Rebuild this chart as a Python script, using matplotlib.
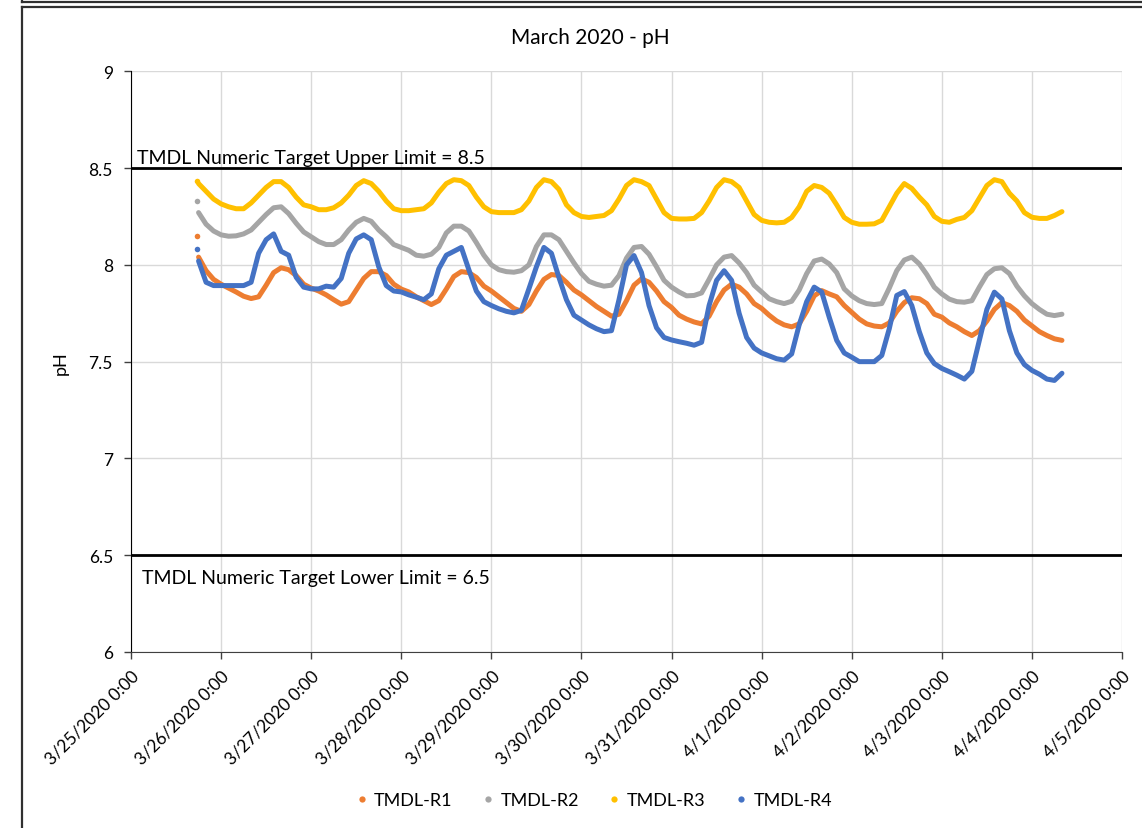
import numpy as np
import pandas as pd
import matplotlib
matplotlib.use("Agg")
import matplotlib.pyplot as plt
import matplotlib.dates as mdates
from matplotlib.lines import Line2D
from matplotlib.ticker import FuncFormatter, MultipleLocator

plt.rcParams['font.family'] = ['Lato', 'DejaVu Sans']

# readings every 2 hours, 3/25 18:00 -> 4/4 08:00
times = pd.date_range('2020-03-25 18:00', '2020-04-04 08:00', freq='2h')
first_time = pd.Timestamp('2020-03-25 17:30')

series_names = ['TMDL-R1', 'TMDL-R2', 'TMDL-R3', 'TMDL-R4']
colors = ['#ED7D31', '#A5A5A5', '#FFC000', '#4472C4']

# first reading of each logger (3/25 17:30)
first_vals = [8.15, 8.33, 8.435, 8.08]

r1 = [8.04, 7.97, 7.925,
      7.90, 7.88, 7.86, 7.838, 7.826, 7.835, 7.895, 7.96, 7.985, 7.975, 7.945, 7.90,
      7.88, 7.865, 7.845, 7.82, 7.797, 7.81, 7.87, 7.93, 7.965, 7.965, 7.945, 7.90,
      7.875, 7.86, 7.835, 7.815, 7.795, 7.815, 7.875, 7.94, 7.965, 7.96, 7.935, 7.89,
      7.865, 7.835, 7.805, 7.775, 7.76, 7.795, 7.865, 7.925, 7.95, 7.945, 7.91, 7.87,
      7.845, 7.815, 7.785, 7.76, 7.735, 7.745, 7.815, 7.895, 7.928, 7.91, 7.865, 7.81,
      7.78, 7.74, 7.72, 7.705, 7.695, 7.735, 7.81, 7.87, 7.90, 7.885, 7.85, 7.80,
      7.775, 7.74, 7.71, 7.69, 7.68, 7.695, 7.76, 7.84, 7.867, 7.85, 7.835, 7.79,
      7.755, 7.72, 7.695, 7.684, 7.68, 7.70, 7.76, 7.805, 7.83, 7.825, 7.80, 7.745,
      7.73, 7.70, 7.68, 7.655, 7.635, 7.66, 7.71, 7.77, 7.805, 7.79, 7.76, 7.715,
      7.685, 7.655, 7.635, 7.618, 7.61]

r2 = [8.27, 8.21, 8.175,
      8.155, 8.148, 8.15, 8.16, 8.18, 8.22, 8.26, 8.295, 8.30, 8.265, 8.215, 8.17,
      8.145, 8.12, 8.105, 8.105, 8.13, 8.18, 8.22, 8.24, 8.225, 8.18, 8.145, 8.105,
      8.09, 8.075, 8.05, 8.045, 8.055, 8.09, 8.165, 8.20, 8.20, 8.175, 8.115, 8.05,
      8.00, 7.975, 7.965, 7.962, 7.97, 8.00, 8.095, 8.155, 8.155, 8.13, 8.07, 8.01,
      7.955, 7.915, 7.90, 7.89, 7.895, 7.945, 8.035, 8.09, 8.095, 8.055, 7.99, 7.92,
      7.885, 7.86, 7.84, 7.842, 7.855, 7.925, 8.00, 8.04, 8.048, 8.01, 7.96, 7.895,
      7.86, 7.825, 7.81, 7.80, 7.812, 7.87, 7.955, 8.02, 8.03, 8.005, 7.96, 7.876,
      7.84, 7.815, 7.80, 7.795, 7.80, 7.88, 7.97, 8.025, 8.04, 8.005, 7.95, 7.885,
      7.85, 7.823, 7.81, 7.807, 7.815, 7.885, 7.95, 7.98, 7.985, 7.955, 7.89, 7.84,
      7.80, 7.77, 7.745, 7.738, 7.745]

r3 = [8.42, 8.38, 8.34,
      8.315, 8.30, 8.29, 8.29, 8.32, 8.36, 8.40, 8.43, 8.43, 8.40, 8.35, 8.31,
      8.30, 8.285, 8.285, 8.295, 8.32, 8.36, 8.41, 8.435, 8.42, 8.38, 8.33, 8.29,
      8.28, 8.28, 8.285, 8.29, 8.32, 8.375, 8.42, 8.44, 8.435, 8.41, 8.35, 8.30,
      8.275, 8.27, 8.27, 8.27, 8.285, 8.33, 8.40, 8.44, 8.43, 8.39, 8.31, 8.27,
      8.25, 8.245, 8.25, 8.255, 8.28, 8.34, 8.41, 8.44, 8.43, 8.41, 8.34, 8.27,
      8.24, 8.237, 8.237, 8.24, 8.27, 8.33, 8.40, 8.44, 8.43, 8.40, 8.33, 8.26,
      8.23, 8.22, 8.217, 8.22, 8.245, 8.30, 8.38, 8.41, 8.40, 8.37, 8.31, 8.245,
      8.22, 8.21, 8.21, 8.212, 8.23, 8.30, 8.37, 8.42, 8.395, 8.35, 8.31, 8.25,
      8.225, 8.22, 8.235, 8.245, 8.28, 8.345, 8.41, 8.44, 8.43, 8.37, 8.33, 8.27,
      8.246, 8.24, 8.24, 8.255, 8.275]

r4 = [8.02, 7.91, 7.893,
      7.893, 7.893, 7.893, 7.893, 7.91, 8.06, 8.13, 8.16, 8.07, 8.05, 7.936, 7.885,
      7.876, 7.876, 7.89, 7.885, 7.93, 8.06, 8.134, 8.155, 8.13, 7.99, 7.893, 7.865,
      7.86, 7.845, 7.833, 7.82, 7.85, 7.98, 8.05, 8.07, 8.09, 7.975, 7.865, 7.81,
      7.79, 7.773, 7.76, 7.752, 7.765, 7.876, 7.99, 8.09, 8.06, 7.935, 7.82, 7.74,
      7.715, 7.69, 7.67, 7.655, 7.66, 7.82, 8.00, 8.048, 7.96, 7.79, 7.675, 7.625,
      7.612, 7.603, 7.595, 7.585, 7.60, 7.79, 7.92, 7.97, 7.92, 7.75, 7.625, 7.57,
      7.545, 7.53, 7.515, 7.508, 7.54, 7.69, 7.81, 7.885, 7.86, 7.73, 7.61, 7.545,
      7.523, 7.50, 7.50, 7.50, 7.532, 7.67, 7.842, 7.862, 7.79, 7.655, 7.545, 7.49,
      7.465, 7.448, 7.43, 7.41, 7.45, 7.61, 7.77, 7.859, 7.824, 7.66, 7.545, 7.485,
      7.455, 7.435, 7.41, 7.403, 7.44]

target_upper = 8.5
target_lower = 6.5

fig = plt.figure(figsize=(11.42, 8.29), dpi=100)
ax = fig.add_axes([131 / 1142, 1 - 653 / 829, 991 / 1142, 580.7 / 829])

for name, vals, c, v0 in zip(series_names, [r1, r2, r3, r4], colors, first_vals):
    ax.plot(times, vals, color=c, lw=3.6, solid_capstyle='round',
            solid_joinstyle='round', zorder=3)
    ax.plot([first_time], [v0], 'o', color=c, ms=4, mec='none', zorder=3)
    ax.plot([], [], 'o', color=c, ms=4.5, mec='none', label=name)

ax.axhline(target_upper, color='black', lw=2, zorder=4)
ax.axhline(target_lower, color='black', lw=2, zorder=4)
ax.text(0.006, 0.852, 'TMDL Numeric Target Upper Limit = 8.5', transform=ax.transAxes,
        fontsize=14, va='center', ha='left')
ax.text(0.011, 0.129, 'TMDL Numeric Target Lower Limit = 6.5', transform=ax.transAxes,
        fontsize=14, va='center', ha='left')

ax.set_xlim(pd.Timestamp('2020-03-25'), pd.Timestamp('2020-04-05'))
ax.set_ylim(6, 9)
ax.yaxis.set_major_locator(MultipleLocator(0.5))
ax.yaxis.set_major_formatter(FuncFormatter(lambda v, p: '%g' % v))
ax.xaxis.set_major_locator(mdates.DayLocator())


def fmt_date(x, pos):
    d = mdates.num2date(x)
    return '%d/%d/%d %d:%02d' % (d.month, d.day, d.year, d.hour, d.minute)


ax.xaxis.set_major_formatter(FuncFormatter(fmt_date))
for lab in ax.get_xticklabels():
    lab.set_rotation(45)
    lab.set_ha('right')
    lab.set_rotation_mode('anchor')
ax.tick_params(axis='both', labelsize=12.5, length=5, width=1, color='#404040')
ax.tick_params(axis='x', pad=6)
ax.tick_params(axis='y', pad=8)

ax.grid(True, color='#d9d9d9', lw=1)
ax.set_axisbelow(True)
for s in ['top', 'right']:
    ax.spines[s].set_visible(False)
ax.spines['left'].set_color('black')
ax.spines['bottom'].set_color('#404040')

ax.set_ylabel('pH', fontsize=13, labelpad=14)
fig.text(0.5166, 1 - 38 / 829, 'March 2020 - pH', ha='center', va='center', fontsize=15)

fig.legend(loc='center', bbox_to_anchor=(0.519, 1 - 801 / 829), ncol=4, frameon=False,
           fontsize=13, handletextpad=0.25, columnspacing=1.5, handlelength=0.9)


# chart borders
def px_line(x0, y0, x1, y1, lw=1.6, c='#303030'):
    fig.add_artist(Line2D([x0 / 1142, x1 / 1142], [1 - y0 / 829, 1 - y1 / 829],
                          transform=fig.transFigure, color=c, lw=lw))


px_line(22, 2.7, 1142, 2.7)
px_line(22, 0, 22, 2.7)
px_line(22, 7.5, 1142, 7.5)
px_line(22, 7.5, 22, 829)

fig.savefig('out.png', dpi=100)
